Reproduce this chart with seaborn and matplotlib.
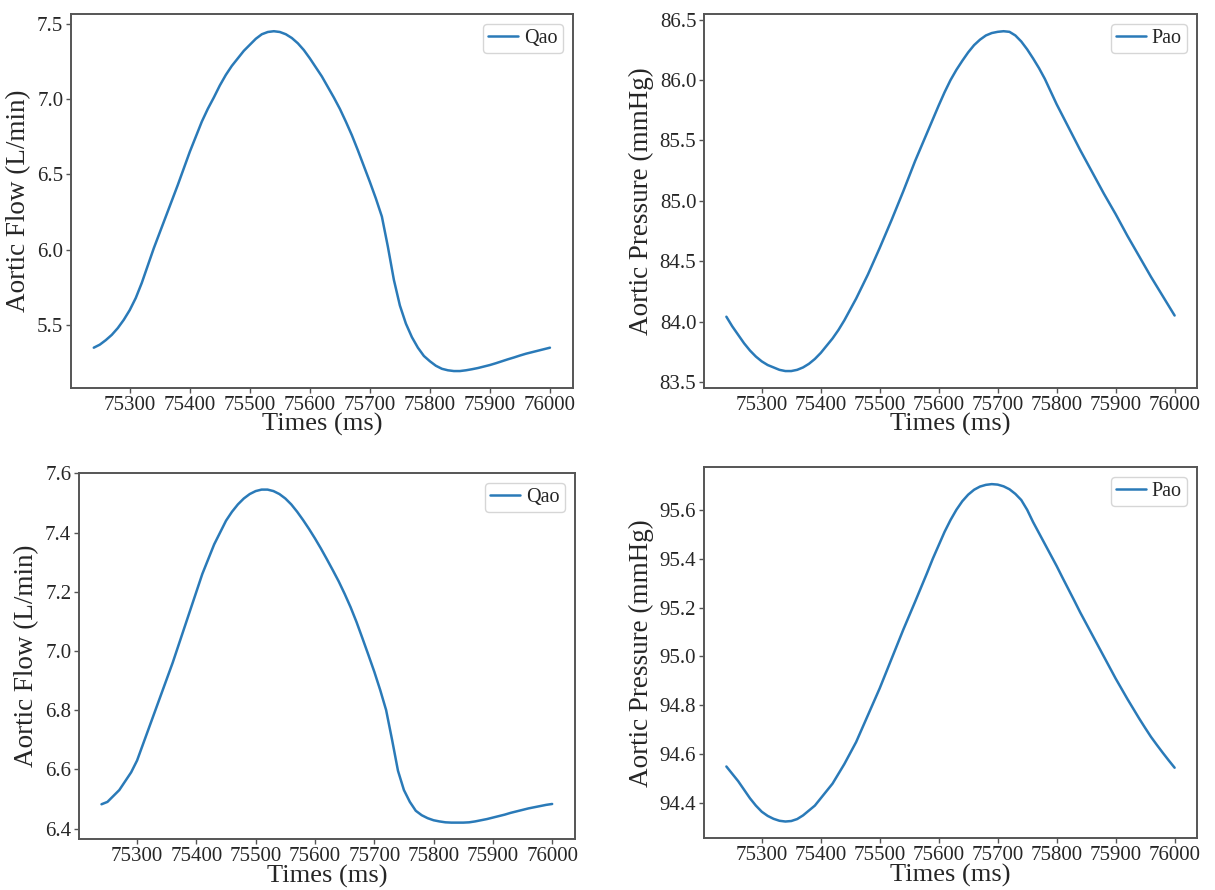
import matplotlib
matplotlib.use("Agg")
import matplotlib.pyplot as plt
import matplotlib.ticker as ticker
import seaborn as sns
import pandas as pd

# time axis (ms), sampled every 10 ms
times = [75240, 75250, 75260, 75270, 75280, 75290, 75300, 75310, 75320, 75330,
         75340, 75350, 75360, 75370, 75380, 75390, 75400, 75410, 75420, 75430,
         75440, 75450, 75460, 75470, 75480, 75490, 75500, 75510, 75520, 75530,
         75540, 75550, 75560, 75570, 75580, 75590, 75600, 75610, 75620, 75630,
         75640, 75650, 75660, 75670, 75680, 75690, 75700, 75710, 75720, 75730,
         75740, 75750, 75760, 75770, 75780, 75790, 75800, 75810, 75820, 75830,
         75840, 75850, 75860, 75870, 75880, 75890, 75900, 75910, 75920, 75930,
         75940, 75950, 75960, 75970, 75980, 75990, 76000]

# case 1
qao_1 = [5.35, 5.37, 5.40, 5.435, 5.48, 5.535, 5.60, 5.68, 5.78, 5.895,
         6.01, 6.115, 6.22, 6.325, 6.43, 6.54, 6.65, 6.75, 6.85, 6.935,
         7.01, 7.09, 7.16, 7.22, 7.27, 7.32, 7.36, 7.40, 7.43, 7.445,
         7.45, 7.445, 7.43, 7.405, 7.37, 7.325, 7.27, 7.21, 7.15, 7.08,
         7.01, 6.935, 6.85, 6.76, 6.66, 6.555, 6.45, 6.34, 6.22, 6.02,
         5.80, 5.63, 5.51, 5.42, 5.35, 5.295, 5.26, 5.23, 5.21, 5.20,
         5.195, 5.195, 5.20, 5.207, 5.215, 5.225, 5.235, 5.247, 5.26, 5.273,
         5.285, 5.298, 5.31, 5.32, 5.33, 5.34, 5.35]
pao_1 = [84.04, 83.96, 83.89, 83.82, 83.76, 83.71, 83.67, 83.64, 83.62, 83.60,
         83.59, 83.59, 83.60, 83.62, 83.65, 83.69, 83.74, 83.80, 83.86, 83.93,
         84.01, 84.10, 84.19, 84.29, 84.39, 84.50, 84.61, 84.725, 84.84, 84.96,
         85.08, 85.205, 85.33, 85.445, 85.56, 85.675, 85.79, 85.90, 86.00, 86.085,
         86.16, 86.23, 86.29, 86.335, 86.37, 86.39, 86.40, 86.405, 86.40, 86.37,
         86.32, 86.255, 86.18, 86.10, 86.01, 85.905, 85.80, 85.705, 85.61, 85.515,
         85.42, 85.33, 85.24, 85.15, 85.06, 84.975, 84.89, 84.80, 84.71, 84.625,
         84.54, 84.455, 84.37, 84.29, 84.21, 84.13, 84.05]

# case 2
qao_2 = [6.482, 6.49, 6.51, 6.53, 6.56, 6.59, 6.63, 6.685, 6.74, 6.795,
         6.85, 6.905, 6.96, 7.02, 7.08, 7.14, 7.20, 7.26, 7.31, 7.36,
         7.40, 7.44, 7.47, 7.495, 7.515, 7.53, 7.54, 7.545, 7.545, 7.54,
         7.53, 7.515, 7.495, 7.47, 7.442, 7.412, 7.38, 7.346, 7.31, 7.273,
         7.235, 7.193, 7.148, 7.098, 7.043, 6.987, 6.93, 6.868, 6.80, 6.70,
         6.595, 6.53, 6.49, 6.46, 6.445, 6.435, 6.428, 6.424, 6.421, 6.42,
         6.42, 6.42, 6.421, 6.424, 6.428, 6.432, 6.437, 6.442, 6.447, 6.453,
         6.458, 6.463, 6.468, 6.472, 6.476, 6.48, 6.483]
pao_2 = [94.55, 94.52, 94.49, 94.455, 94.42, 94.39, 94.365, 94.348, 94.336, 94.328,
         94.325, 94.327, 94.335, 94.35, 94.37, 94.39, 94.42, 94.45, 94.48, 94.52,
         94.56, 94.605, 94.65, 94.705, 94.76, 94.815, 94.87, 94.93, 94.99, 95.05,
         95.11, 95.167, 95.224, 95.282, 95.34, 95.40, 95.455, 95.51, 95.558, 95.60,
         95.635, 95.662, 95.682, 95.695, 95.702, 95.705, 95.703, 95.696, 95.684, 95.665,
         95.64, 95.60, 95.55, 95.505, 95.46, 95.415, 95.37, 95.322, 95.275, 95.228,
         95.18, 95.135, 95.09, 95.045, 95.00, 94.955, 94.91, 94.868, 94.826, 94.786,
         94.746, 94.708, 94.671, 94.638, 94.606, 94.575, 94.545]

sns.set_style("ticks")
plt.rcParams['font.family'] = ['Liberation Serif', 'DejaVu Serif']

df = pd.DataFrame({"Times": times, "Qao1": qao_1, "Pao1": pao_1,
                   "Qao2": qao_2, "Pao2": pao_2})

fig = plt.figure(figsize=(12.15, 8.9), dpi=100)

panels = [
    ([0.0584, 0.564, 0.413, 0.420], "Qao1", "Qao", "Aortic Flow (L/min)", 0.5),
    ([0.5794, 0.564, 0.4058, 0.420], "Pao1", "Pao", "Aortic Pressure (mmHg)", 0.5),
    ([0.065, 0.057, 0.408, 0.4116], "Qao2", "Qao", "Aortic Flow (L/min)", 0.2),
    ([0.5794, 0.058, 0.4058, 0.417], "Pao2", "Pao", "Aortic Pressure (mmHg)", 0.2),
]

for pos, col, lab, ylab, ystep in panels:
    ax = fig.add_axes(pos)
    sns.lineplot(x="Times", y=col, data=df, ax=ax, label=lab,
                 color="#2a7ab8", linewidth=1.8)
    ax.xaxis.set_major_locator(ticker.MultipleLocator(100))
    ax.yaxis.set_major_locator(ticker.MultipleLocator(ystep))
    ax.yaxis.set_major_formatter(ticker.FormatStrFormatter("%.1f"))
    ax.set_xlabel("Times (ms)", fontsize=19, labelpad=-1)
    ax.set_ylabel(ylab, fontsize=19.5, labelpad=4)
    ax.tick_params(labelsize=15, length=3.5, width=1, color="#555555", pad=2)
    for sp in ax.spines.values():
        sp.set_color("#555555")
        sp.set_linewidth(1.4)
    ax.legend(loc="upper right", fontsize=14.5, handlelength=1.5,
              borderpad=0.25, handletextpad=0.3)

plt.savefig("out.png", dpi=100)
